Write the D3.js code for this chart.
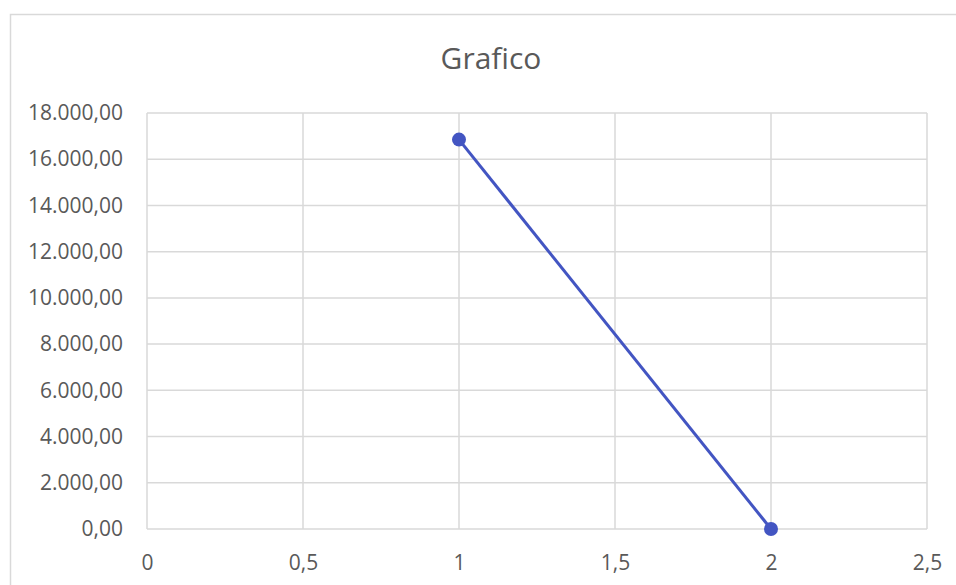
<!DOCTYPE html>
<html><head><meta charset="utf-8">
<script src="https://cdn.jsdelivr.net/npm/d3@7"></script>
<style>body{margin:0;background:#fff;} svg{display:block;}</style>
</head><body>
<svg id="c" width="956" height="585"></svg>
<script>
const title = "Grafico";
const xValues = [1, 2];
const yValues = [16850, 0];
const xTicks = [0, 0.5, 1, 1.5, 2, 2.5];
const yTicks = [0, 2000, 4000, 6000, 8000, 10000, 12000, 14000, 16000, 18000];

const svg = d3.select("#c");
const m = {left:147, top:113, right:927, bottom:529};
const x = d3.scaleLinear().domain([0, 2.5]).range([m.left, m.right]);
const y = d3.scaleLinear().domain([0, 18000]).range([m.bottom, m.top]);
const FONT = "'Open Sans', 'Noto Sans', sans-serif";

// chart border
svg.append("rect").attr("x",10.5).attr("y",14.5).attr("width",960).attr("height",600)
  .attr("fill","#fff").attr("stroke","#d9d9d9").attr("stroke-width",1.5);

const fmtY = v => {
  const s = v.toFixed(2).split(".");
  return s[0].replace(/\B(?=(\d{3})+(?!\d))/g, ".") + "," + s[1];
};
const fmtX = v => String(v).replace(".", ",");

const grid = svg.append("g");
grid.selectAll("line.h").data(yTicks).join("line")
  .attr("x1", m.left).attr("x2", m.right)
  .attr("y1", d => y(d)).attr("y2", d => y(d))
  .attr("stroke", "#d9d9d9").attr("stroke-width", 1.5);
grid.selectAll("line.v").data(xTicks).join("line")
  .attr("y1", m.top).attr("y2", m.bottom)
  .attr("x1", d => x(d)).attr("x2", d => x(d))
  .attr("stroke", "#d9d9d9").attr("stroke-width", 1.5);

const yAxis = d3.axisLeft(y).tickValues(yTicks).tickFormat(fmtY).tickSize(0).tickPadding(24);
const gy = svg.append("g").attr("transform", `translate(${m.left},0)`).call(yAxis);
gy.select(".domain").remove();
gy.selectAll("text").attr("fill","#595959").style("font-family",FONT).style("font-size","21px");

const xAxis = d3.axisBottom(x).tickValues(xTicks).tickFormat(fmtX).tickSize(0).tickPadding(26);
const gx = svg.append("g").attr("transform", `translate(0,${m.bottom})`).call(xAxis);
gx.select(".domain").remove();
gx.selectAll("text").attr("fill","#595959").style("font-family",FONT).style("font-size","21px");

svg.append("text").attr("x", 491).attr("y", 69).attr("text-anchor","middle")
  .attr("fill","#595959").style("font-family",FONT).style("font-size","30px")
  .text(title);

const pts = xValues.map((v,i)=>[v, yValues[i]]);
svg.append("path").datum(pts)
  .attr("d", d3.line().x(d=>x(d[0])).y(d=>y(d[1])))
  .attr("fill","none").attr("stroke","#4355c2").attr("stroke-width",3);
svg.selectAll("circle.p").data(pts).join("circle")
  .attr("cx", d=>x(d[0])).attr("cy", d=>y(d[1])).attr("r",7)
  .attr("fill","#4355c2");
</script>
</body></html>
